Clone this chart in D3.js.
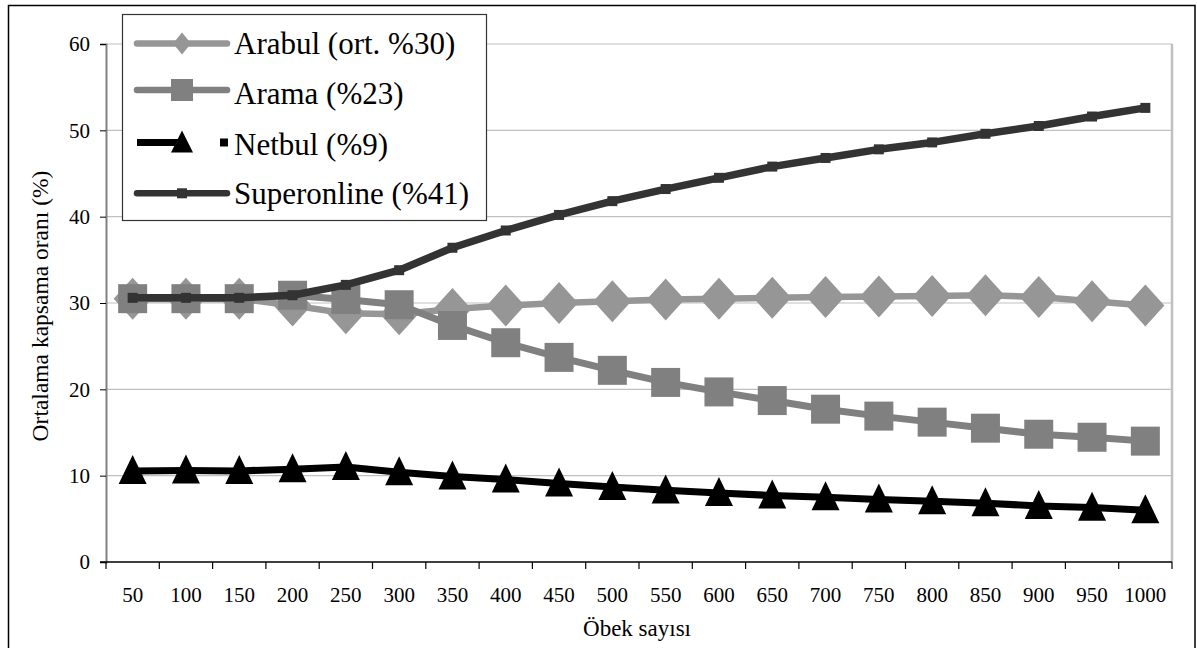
<!DOCTYPE html>
<html>
<head>
<meta charset="utf-8">
<script src="https://cdn.jsdelivr.net/npm/d3@7"></script>
<style>
  html, body { margin: 0; padding: 0; background: #fff; }
  svg { display: block; }
  text { font-family: "Liberation Serif", "Times New Roman", serif; fill: #000; }
</style>
</head>
<body>
<svg id="chart" width="1197" height="648"></svg>
<script>
const categories = ["50","100","150","200","250","300","350","400","450","500","550","600","650","700","750","800","850","900","950","1000"];
const arabul = [30.5, 30.5, 30.5, 29.7, 28.8, 28.7, 29.3, 29.7, 30.0, 30.2, 30.4, 30.5, 30.6, 30.7, 30.75, 30.8, 30.9, 30.7, 30.2, 29.7];
const arama = [30.5, 30.5, 30.5, 30.9, 30.4, 29.8, 27.4, 25.4, 23.7, 22.2, 20.8, 19.7, 18.7, 17.7, 16.9, 16.2, 15.5, 14.8, 14.45, 14.0];
const netbul = [10.55, 10.6, 10.55, 10.75, 11.0, 10.4, 9.9, 9.55, 9.1, 8.7, 8.3, 8.0, 7.7, 7.5, 7.25, 7.05, 6.8, 6.5, 6.3, 6.0];
const superonline = [30.6, 30.6, 30.6, 30.9, 32.1, 33.8, 36.4, 38.4, 40.2, 41.8, 43.2, 44.5, 45.8, 46.8, 47.8, 48.6, 49.6, 50.5, 51.6, 52.6];
const yTicks = [0, 10, 20, 30, 40, 50, 60];
const seriesNames = ["Arabul (ort. %30)", "Arama (%23)", "Netbul (%9)", "Superonline (%41)"];
const xTitle = "Öbek sayısı";
const yTitle = "Ortalama kapsama oranı (%)";

const FONT = '"Liberation Serif", "Times New Roman", serif';
const svg = d3.select("#chart");
const L = 106, R = 1172, T = 44, B = 562;

const x = d3.scaleBand().domain(categories).range([L, R]).paddingInner(0).paddingOuter(0);
const y = d3.scaleLinear().domain([0, 60]).range([B, T]);

// outer border
svg.append("rect").attr("x", 8.5).attr("y", 5.5).attr("width", 1186.5).attr("height", 660)
  .attr("fill", "#fff").attr("stroke", "#000").attr("stroke-width", 1.5);

// gridlines
svg.append("g").selectAll("line").data(yTicks.filter(d => d > 0)).join("line")
  .attr("x1", L).attr("x2", R).attr("y1", d => y(d)).attr("y2", d => y(d))
  .attr("stroke", "#c0c0c0").attr("stroke-width", 1.2);

// right plot border
svg.append("line").attr("x1", R).attr("x2", R).attr("y1", T).attr("y2", B)
  .attr("stroke", "#c0c0c0").attr("stroke-width", 2.5);

// y axis
const yAxis = svg.append("g").attr("transform", `translate(${L},0)`)
  .call(d3.axisLeft(y).tickValues(yTicks).tickSize(6).tickPadding(10).tickFormat(d3.format("d")));
yAxis.attr("font-family", FONT);
yAxis.select(".domain").attr("stroke", "#808080").attr("stroke-width", 2);
yAxis.selectAll(".tick line").attr("stroke", "#000");
yAxis.selectAll("text").style("font-size", "21px").style("font-family", FONT);

// x axis labels
const xAxis = svg.append("g").attr("transform", `translate(0,${B})`)
  .call(d3.axisBottom(x).tickSize(0).tickPadding(25));
xAxis.attr("font-family", FONT);
xAxis.select(".domain").remove();
xAxis.selectAll("text").style("font-size", "21px").style("font-family", FONT);
// x axis line and boundary ticks
svg.append("line").attr("x1", L - 6).attr("x2", R).attr("y1", B).attr("y2", B)
  .attr("stroke", "#000").attr("stroke-width", 1.5);
svg.append("g").selectAll("line").data(d3.range(categories.length + 1)).join("line")
  .attr("x1", i => L + i * x.step()).attr("x2", i => L + i * x.step())
  .attr("y1", B).attr("y2", B + 7).attr("stroke", "#000").attr("stroke-width", 1.2);

// titles
svg.append("text").attr("x", 637).attr("y", 636).attr("text-anchor", "middle")
  .style("font-size", "23px").style("font-family", FONT).text(xTitle);
svg.append("text").attr("transform", "translate(48,306) rotate(-90)").attr("text-anchor", "middle")
  .style("font-size", "23.5px").style("font-family", FONT).text(yTitle);

// symbols
function diamondPath(w, h) { return `M0,${-h/2}L${w/2},0L0,${h/2}L${-w/2},0Z`; }
function squarePath(s) { return `M${-s/2},${-s/2}h${s}v${s}h${-s}Z`; }
function trianglePath(w, h) { return `M0,${-h*0.55}L${w/2},${h*0.45}L${-w/2},${h*0.45}Z`; }

const series = [
  { name: seriesNames[0], values: arabul, color: "#969696", width: 6.5, marker: diamondPath(38, 42), legMarker: diamondPath(18, 22) },
  { name: seriesNames[1], values: arama, color: "#808080", width: 7, marker: squarePath(29), legMarker: squarePath(22) },
  { name: seriesNames[2], values: netbul, color: "#000000", width: 7, marker: trianglePath(28, 29), legMarker: trianglePath(22, 22) },
  { name: seriesNames[3], values: superonline, color: "#333333", width: 7.5, marker: squarePath(10), legMarker: squarePath(10) }
];

const line = d3.line().x((d, i) => x(categories[i]) + x.bandwidth() / 2).y(d => y(d));

series.forEach(s => {
  const g = svg.append("g");
  g.append("path").attr("d", line(s.values)).attr("fill", "none")
    .attr("stroke", s.color).attr("stroke-width", s.width).attr("stroke-linejoin", "round");
  g.selectAll("path.m").data(s.values).join("path").attr("class", "m")
    .attr("transform", (d, i) => `translate(${x(categories[i]) + x.bandwidth() / 2},${y(d)})`)
    .attr("d", s.marker).attr("fill", s.color);
});

// legend
const lg = svg.append("g");
lg.append("rect").attr("x", 122.5).attr("y", 14.5).attr("width", 364).attr("height", 206)
  .attr("fill", "#fff").attr("stroke", "#333").attr("stroke-width", 1.2);
const legLineY = [43.5, 90, 142.5, 193.3];
const legTextY = [53.5, 103.5, 154.5, 204];
series.forEach((s, i) => {
  const ly = legLineY[i];
  if (i === 2) {
    lg.append("line").attr("x1", 137).attr("x2", 186).attr("y1", ly).attr("y2", ly)
      .attr("stroke", s.color).attr("stroke-width", 7).attr("stroke-linecap", "butt");
    lg.append("path").attr("d", squarePath(8)).attr("transform", `translate(224,${ly})`).attr("fill", s.color);
  } else {
    lg.append("line").attr("x1", 137).attr("x2", 227).attr("y1", ly).attr("y2", ly)
      .attr("stroke", s.color).attr("stroke-width", 6.5).attr("stroke-linecap", "round");
  }
  lg.append("path").attr("d", s.legMarker).attr("transform", `translate(182,${ly})`).attr("fill", s.color);
  lg.append("text").attr("x", 234).attr("y", legTextY[i])
    .style("font-size", "31px").style("font-family", FONT).text(s.name);
});
</script>
</body>
</html>
